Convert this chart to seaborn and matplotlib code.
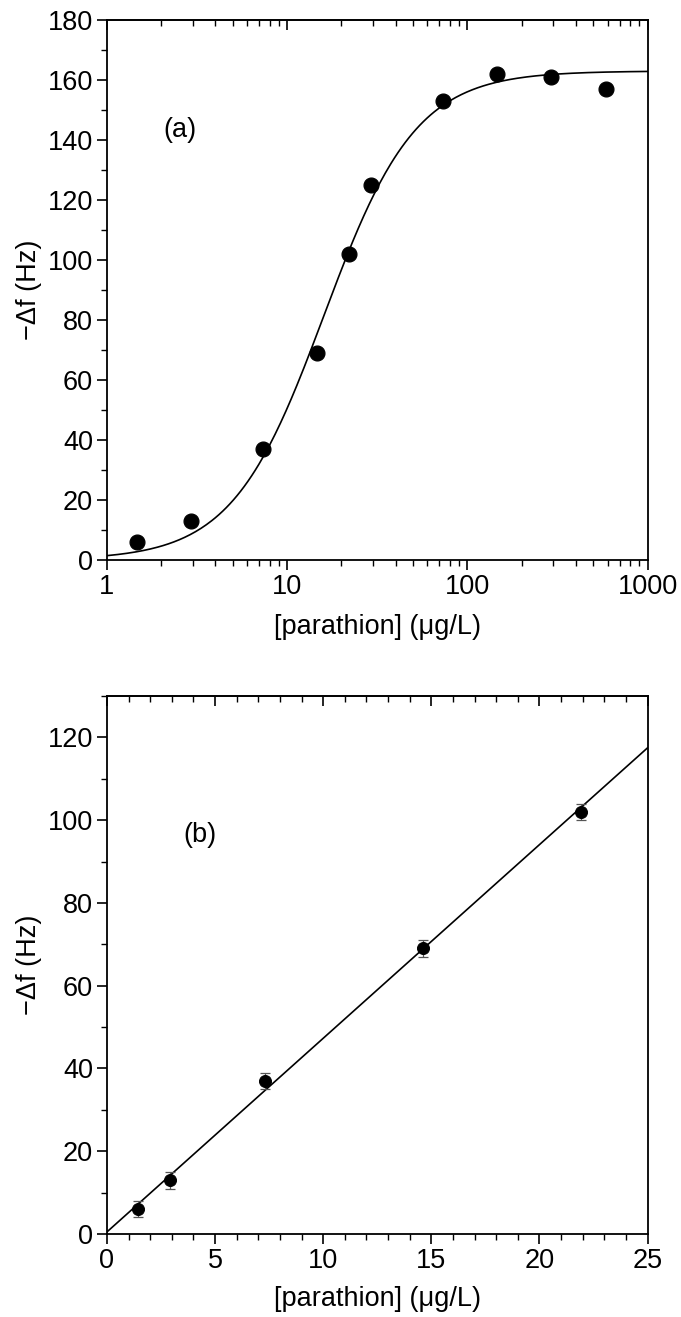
import numpy as np
import pandas as pd
import seaborn as sns
import matplotlib.pyplot as plt
from matplotlib.ticker import MultipleLocator, LogLocator, NullFormatter

sns.set_style("ticks")
plt.rcParams["font.family"] = ["Liberation Sans", "DejaVu Sans"]
plt.rcParams["font.size"] = 19.5
plt.rcParams["text.color"] = "black"
plt.rcParams["axes.labelcolor"] = "black"
plt.rcParams["xtick.color"] = "black"
plt.rcParams["ytick.color"] = "black"

# (a) full calibration, log scale
conc_a = [1.46, 2.92, 7.3, 14.6, 21.9, 29.2, 73, 146, 292, 584]
df_a = [6, 13, 37, 69, 102, 125, 153, 162, 161, 157]

# logistic fit parameters
a1, a2, x0, p = 0.0, 163.0, 16.0, 1.7

# (b) linear range
conc_b = [1.46, 2.92, 7.3, 14.6, 21.9]
df_b = [6, 13, 37, 69, 102]
err_b = [2, 2, 2, 2, 2]
slope, intercept = 4.68, 0.5

fig = plt.figure(figsize=(6.81, 13.17), dpi=100)
ax1 = fig.add_axes([0.157, 0.5748, 0.794, 0.410])
ax2 = fig.add_axes([0.157, 0.063, 0.794, 0.4085])

# --- panel (a)
xfit = np.logspace(0, 3, 300)
fit_a = pd.DataFrame({"x": xfit, "y": a2 + (a1 - a2) / (1 + (xfit / x0) ** p)})
sns.lineplot(data=fit_a, x="x", y="y", ax=ax1, color="black", lw=1.2)
sns.scatterplot(x=conc_a, y=df_a, ax=ax1, color="black", s=115, edgecolor="black", zorder=3)
ax1.set_xscale("log")
ax1.set_xlim(1, 1000)
ax1.set_ylim(0, 180)
ax1.yaxis.set_major_locator(MultipleLocator(20))
ax1.yaxis.set_minor_locator(MultipleLocator(10))
ax1.xaxis.set_minor_locator(LogLocator(base=10, subs=np.arange(2, 10)))
ax1.xaxis.set_minor_formatter(NullFormatter())
ax1.set_xticks([1, 10, 100, 1000])
ax1.set_xticklabels(["1", "10", "100", "1000"])
ax1.set_xlabel("[parathion] (\u03bcg/L)", labelpad=10)
ax1.set_ylabel("\u2212\u0394f (Hz)", labelpad=4)
ax1.text(0.135, 0.796, "(a)", transform=ax1.transAxes, ha="center", va="center")

top1 = ax1.secondary_xaxis("top")
top1.set_xscale("log")
top1.xaxis.set_minor_locator(LogLocator(base=10, subs=np.arange(2, 10)))
top1.set_xticks([1, 10, 100, 1000])
top1.tick_params(which="both", direction="in", labeltop=False)
top1.tick_params(which="major", length=7, width=1.2)
top1.tick_params(which="minor", length=4, width=1.0)

# --- panel (b)
xlin = np.array([0, 25])
fit_b = pd.DataFrame({"x": xlin, "y": slope * xlin + intercept})
sns.lineplot(data=fit_b, x="x", y="y", ax=ax2, color="black", lw=1.2)
ax2.errorbar(conc_b, df_b, yerr=err_b, fmt="none", ecolor="#555555", elinewidth=0.9,
             capsize=3.5, capthick=0.9, zorder=2)
sns.scatterplot(x=conc_b, y=df_b, ax=ax2, color="black", s=75, edgecolor="black", zorder=3)
ax2.set_xlim(0, 25)
ax2.set_ylim(0, 130)
ax2.xaxis.set_major_locator(MultipleLocator(5))
ax2.xaxis.set_minor_locator(MultipleLocator(1))
ax2.yaxis.set_major_locator(MultipleLocator(20))
ax2.yaxis.set_minor_locator(MultipleLocator(10))
ax2.set_xlabel("[parathion] (\u03bcg/L)", labelpad=9)
ax2.set_ylabel("\u2212\u0394f (Hz)", labelpad=4)
ax2.text(0.172, 0.742, "(b)", transform=ax2.transAxes, ha="center", va="center")

top2 = ax2.secondary_xaxis("top")
top2.xaxis.set_major_locator(MultipleLocator(5))
top2.xaxis.set_minor_locator(MultipleLocator(1))
top2.tick_params(which="both", direction="in", labeltop=False)
top2.tick_params(which="major", length=7, width=1.2)
top2.tick_params(which="minor", length=4, width=1.0)

for ax in (ax1, ax2):
    for s in ax.spines.values():
        s.set_visible(True)
        s.set_linewidth(1.3)
        s.set_color("black")
    ax.tick_params(which="both", direction="out", top=False, right=False, colors="black")
    ax.tick_params(which="major", length=7, width=1.2, labelsize=19.5, pad=3)
    ax.tick_params(which="minor", length=4, width=1.0)
for t in (top1, top2):
    t.spines["top"].set_linewidth(1.3)

fig.savefig("out.png", dpi=100)
